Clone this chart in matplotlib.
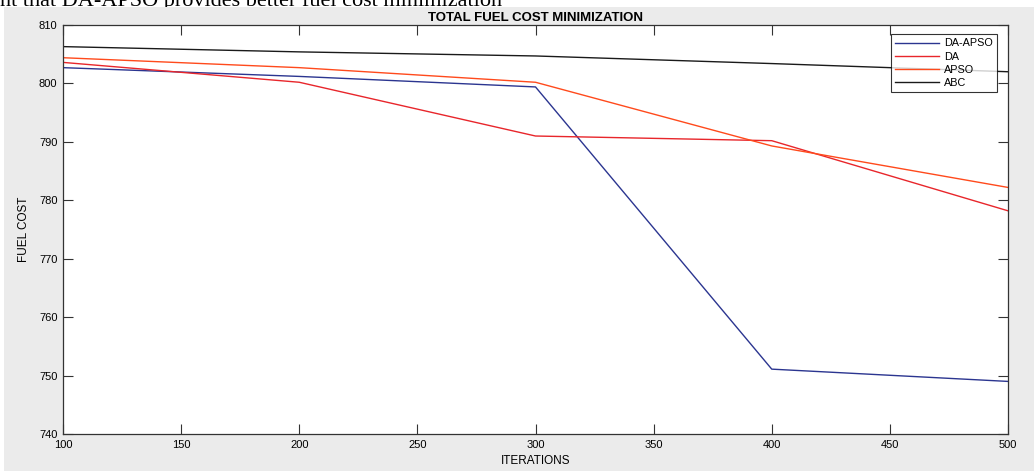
import matplotlib.pyplot as plt
from matplotlib.patches import Rectangle

# datos
iteraciones = [100, 200, 300, 400, 500]
da_apso = [802.7, 801.2, 799.4, 751.1, 749.0]
da = [803.6, 800.2, 791.0, 790.2, 778.2]
apso = [804.4, 802.7, 800.2, 789.3, 782.2]
abc = [806.3, 805.4, 804.7, 803.4, 802.0]

series = ['DA-APSO', 'DA', 'APSO', 'ABC']
colores = ['#2b3590', '#e8262b', '#ff4a1c', '#1a1a1a']
xticks = [100, 150, 200, 250, 300, 350, 400, 450, 500]
yticks = [740, 750, 760, 770, 780, 790, 800, 810]

plt.rcParams['font.family'] = ['Liberation Sans', 'DejaVu Sans']

W, H = 1034, 471
fig = plt.figure(figsize=(W / 100, H / 100), dpi=100)
fig.patch.set_facecolor('white')

# texto del documento recortado arriba
fig.text(0.0, 1 - 6 / H, 'nt that DA-APSO provides better fuel cost minimization',
         family='Liberation Serif', fontsize=16, va='baseline', ha='left', zorder=0)

# fondo gris de la ventana de matlab
fig.patches.append(Rectangle((4 / W, 0), 1 - 4 / W, 1 - 7 / H, transform=fig.transFigure,
                             facecolor='#ebebeb', edgecolor='none', zorder=1))

ax = fig.add_axes([63 / W, (H - 434) / H, (1008 - 63) / W, (434 - 25) / H], zorder=2)
for nombre, valores, c in zip(series, [da_apso, da, apso, abc], colores):
    ax.plot(iteraciones, valores, color=c, linewidth=1.0, label=nombre)

ax.set_xlim(100, 500)
ax.set_ylim(740, 810)
ax.set_xticks(xticks)
ax.set_yticks(yticks)
ax.tick_params(direction='in', length=7, width=0.8, labelsize=8, top=True, right=True,
               color='#333333', pad=4)
for s in ax.spines.values():
    s.set_linewidth(0.9)
    s.set_color('#333333')

ax.set_title('TOTAL FUEL COST MINIMIZATION', fontsize=9.5, fontweight='bold', pad=3)
ax.set_xlabel('ITERATIONS', fontsize=8.5, labelpad=4)
ax.set_ylabel('FUEL COST', fontsize=8.5, labelpad=6)

leg = ax.legend(loc='upper right', fontsize=7.8, frameon=True, fancybox=False,
                edgecolor='black', borderpad=0.4, handlelength=4.0, handletextpad=0.5,
                labelspacing=0.3, borderaxespad=0,
                bbox_to_anchor=((997 - 63) / 945, (434 - 34) / 409))
leg.get_frame().set_linewidth(0.8)

fig.savefig('out.png', dpi=100)
